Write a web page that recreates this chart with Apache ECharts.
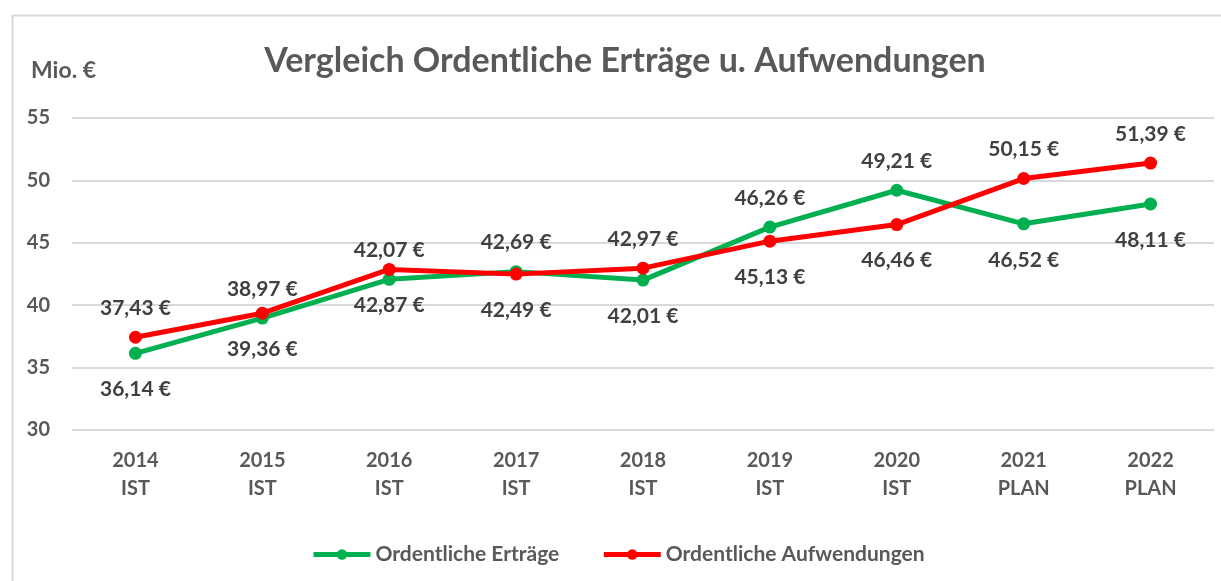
<!DOCTYPE html>
<html>
<head>
<meta charset="utf-8">
<script src="https://cdn.jsdelivr.net/npm/echarts@6/dist/echarts.min.js"></script>
<style>
  html, body { margin: 0; padding: 0; background: #fff; }
  #line-charts { width: 1221px; height: 581px; }
</style>
</head>
<body>
<div id="line-charts"></div>
<script>
// daten
var categories = ["2014\nIST", "2015\nIST", "2016\nIST", "2017\nIST", "2018\nIST", "2019\nIST", "2020\nIST", "2021\nPLAN", "2022\nPLAN"];
var ertraege = [36.14, 38.97, 42.07, 42.69, 42.01, 46.26, 49.21, 46.52, 48.11];
var aufwendungen = [37.43, 39.36, 42.87, 42.49, 42.97, 45.13, 46.46, 50.15, 51.39];
var yTicks = [30, 35, 40, 45, 50, 55];
// wo die Beschriftung der Erträge steht (Aufwendungen jeweils gegenüber)
var ertraegeLabelPos = ["bottom", "top", "top", "top", "bottom", "top", "top", "bottom", "bottom"];

var font = "Lato, 'Open Sans', sans-serif";
var textColor = "#404040";
var axisColor = "#595959";

function fmt(v) {
  return v.toFixed(2).replace(".", ",") + " €";
}

function withLabels(values, flip) {
  return values.map(function (v, i) {
    var pos = ertraegeLabelPos[i];
    if (flip) pos = pos === "top" ? "bottom" : "top";
    return {
      value: v,
      label: { position: pos, distance: pos === "top" ? 12 : 19 }
    };
  });
}

var labelStyle = {
  show: true,
  fontFamily: font,
  fontSize: 21,
  fontWeight: "bold",
  color: textColor,
  formatter: function (p) { return fmt(p.value); }
};

var myCharts = echarts.init(document.getElementById("line-charts"));

var options = {
  backgroundColor: "#fff",
  animation: false,
  title: [
    {
      text: "Vergleich Ordentliche Erträge u. Aufwendungen",
      left: 620,
      textAlign: "center",
      top: 39,
      textStyle: { fontFamily: font, fontSize: 34, fontWeight: "bold", color: axisColor }
    },
    {
      text: "Mio. €",
      left: 26,
      top: 54,
      textStyle: { fontFamily: font, fontSize: 23, fontWeight: "bold", color: axisColor }
    }
  ],
  graphic: [
    {
      type: "rect",
      shape: { x: 12.5, y: 15.5, width: 1240, height: 600 },
      style: { fill: "none", stroke: "#d9d9d9", lineWidth: 2 },
      silent: true
    }
  ],
  legend: {
    top: 539,
    left: 306,
    itemWidth: 57,
    itemHeight: 13,
    itemGap: 42,
    lineStyle: { width: 5 },
    textStyle: { fontFamily: font, fontSize: 21, fontWeight: "bold", color: axisColor },
    data: ["Ordentliche Erträge", "Ordentliche Aufwendungen"]
  },
  grid: {
    left: 72,
    right: 7,
    top: 118,
    bottom: 151
  },
  xAxis: {
    type: "category",
    data: categories,
    axisLine: { show: false },
    axisTick: { show: false },
    axisLabel: {
      margin: 17,
      fontFamily: font,
      fontSize: 20,
      fontWeight: "bold",
      color: axisColor,
      lineHeight: 28
    }
  },
  yAxis: {
    type: "value",
    min: yTicks[0],
    max: yTicks[yTicks.length - 1],
    interval: 5,
    axisLine: { show: false },
    axisTick: { show: false },
    axisLabel: {
      margin: 22,
      fontFamily: font,
      fontSize: 20,
      fontWeight: "bold",
      color: axisColor
    },
    splitLine: { lineStyle: { color: "#d9d9d9", width: 2 } }
  },
  series: [
    {
      name: "Ordentliche Erträge",
      type: "line",
      symbol: "circle",
      symbolSize: 13,
      data: withLabels(ertraege, false),
      itemStyle: { color: "#00b050" },
      lineStyle: { color: "#00b050", width: 5 },
      label: labelStyle,
      z: 3
    },
    {
      name: "Ordentliche Aufwendungen",
      type: "line",
      symbol: "circle",
      symbolSize: 13,
      data: withLabels(aufwendungen, true),
      itemStyle: { color: "#ff0000" },
      lineStyle: { color: "#ff0000", width: 5 },
      label: labelStyle,
      z: 4
    }
  ]
};

myCharts.setOption(options);
</script>
</body>
</html>
